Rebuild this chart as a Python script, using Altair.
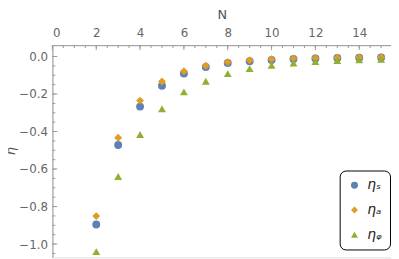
import altair as alt
import pandas as pd

N = [2, 3, 4, 5, 6, 7, 8, 9, 10, 11, 12, 13, 14, 15]
eta_S = [-0.896, -0.472, -0.267, -0.156, -0.091, -0.056, -0.035, -0.025, -0.018, -0.013, -0.010, -0.008, -0.006, -0.005]
eta_a = [-0.851, -0.433, -0.235, -0.133, -0.079, -0.049, -0.030, -0.020, -0.014, -0.010, -0.008, -0.006, -0.005, -0.004]
eta_phi = [-1.04, -0.64, -0.416, -0.279, -0.189, -0.132, -0.091, -0.065, -0.047, -0.035, -0.027, -0.022, -0.018, -0.015]
series = ["ηₛ", "ηₐ", "ηᵩ"]
colors = ["#5E81B5", "#E19C24", "#8FB032"]
shapes = ["circle", "diamond", "triangle-up"]

x_major = [0, 2, 4, 6, 8, 10, 12, 14]
x_minor = [i * 0.5 for i in range(0, 31)]
y_major = [0.0, -0.2, -0.4, -0.6, -0.8, -1.0]
y_minor = [round(-i * 0.05, 2) for i in range(0, 22)]

rows = []
for name, vals in zip(series, [eta_S, eta_a, eta_phi]):
    for n, v in zip(N, vals):
        rows.append({"N": n, "eta": v, "series": name})
df = pd.DataFrame(rows)

xs = alt.Scale(domain=[0, 15.45], nice=False, zero=False)
ys = alt.Scale(domain=[-1.071, 0.0605], nice=False, zero=False)

points = alt.Chart(df).mark_point(filled=True, opacity=1, size=64).encode(
    x=alt.X("N:Q", scale=xs, title="N",
            axis=alt.Axis(orient="top", values=x_major, ticks=False, format="d",
                          labelFontSize=12, labelColor="#666666", domainColor="#9a9a9a",
                          titleFontSize=13, titleColor="#555555", titleFontWeight="normal",
                          labelPadding=6, titlePadding=5, grid=False)),
    y=alt.Y("eta:Q", scale=ys, title="η",
            axis=alt.Axis(values=y_major, ticks=False, format=".1f",
                          labelFontSize=12, labelColor="#666666", domainColor="#9a9a9a",
                          titleFontSize=13, titleColor="#555555", titleFontWeight="normal",
                          titleFontStyle="italic", labelPadding=5, titleX=-42, titleY=107,
                          titleBaseline="middle", grid=False)),
    color=alt.Color("series:N", scale=alt.Scale(domain=series, range=colors),
                    legend=alt.Legend(title=None, orient="none", legendX=291, legendY=127,
                                      fillColor="white", strokeColor="black", cornerRadius=6,
                                      padding=8, rowPadding=11, symbolSize=50,
                                      labelFontSize=14, labelFontStyle="italic",
                                      labelColor="#222222", labelOffset=6)),
    shape=alt.Shape("series:N", scale=alt.Scale(domain=series, range=shapes)),
)

xmaj = alt.Chart(pd.DataFrame({"t": x_major})).mark_rule(color="#9a9a9a").encode(
    x=alt.X("t:Q", scale=xs), y=alt.value(0), y2=alt.value(5))
xmin = alt.Chart(pd.DataFrame({"t": x_minor})).mark_rule(color="#9a9a9a").encode(
    x=alt.X("t:Q", scale=xs), y=alt.value(0), y2=alt.value(3))
ymaj = alt.Chart(pd.DataFrame({"t": y_major})).mark_rule(color="#9a9a9a").encode(
    y=alt.Y("t:Q", scale=ys), x=alt.value(0), x2=alt.value(5))
ymin = alt.Chart(pd.DataFrame({"t": y_minor})).mark_rule(color="#9a9a9a").encode(
    y=alt.Y("t:Q", scale=ys), x=alt.value(0), x2=alt.value(3))

chart = alt.layer(xmin, xmaj, ymin, ymaj, points).properties(
    width=343, height=215,
    autosize=alt.AutoSizeParams(type="none"),
    padding={"left": 45, "top": 36, "right": 0, "bottom": 0},
).configure_view(stroke=None).configure(font="DejaVu Sans")

chart.save("out.html", embed_options={"renderer": "svg", "actions": False})
